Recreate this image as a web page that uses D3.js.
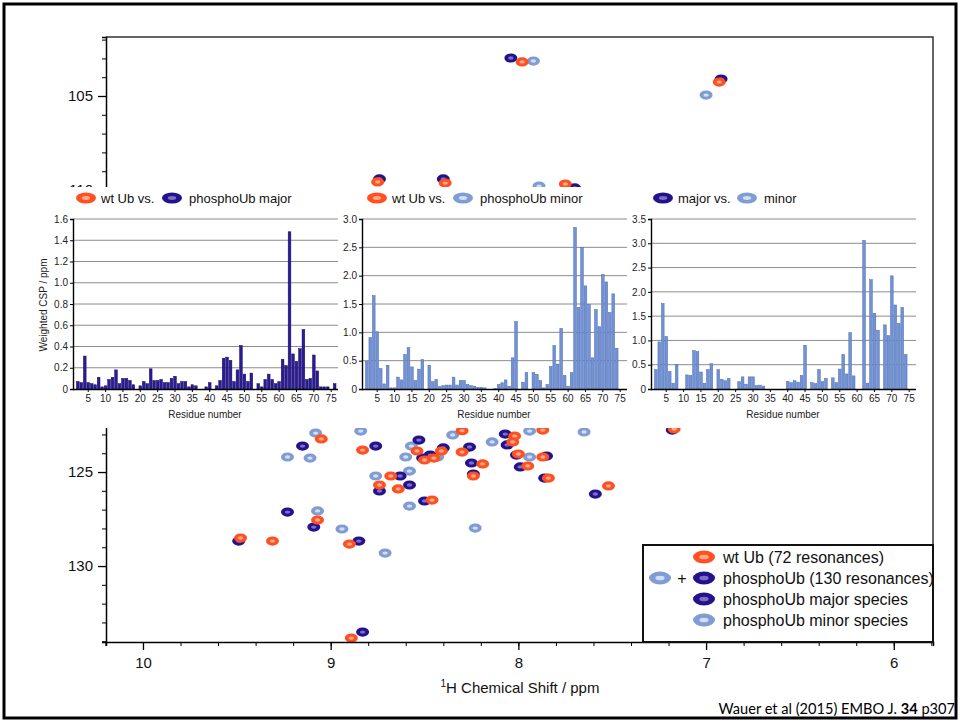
<!DOCTYPE html>
<html>
<head>
<meta charset="utf-8">
<script src="https://cdn.jsdelivr.net/npm/d3@7"></script>
<style>
  body { margin: 0; background: #fff; }
  text { font-family: "Liberation Sans", Arial, Helvetica, sans-serif; }
  text.footer { font-family: Lato, "Open Sans", sans-serif; }
</style>
</head>
<body>
<svg id="fig" width="960" height="722"></svg>
<script>
// ---- spectrum peaks, [1H ppm, 15N ppm] ----
const wtPeaks = [
  [7.98,103.19],[6.93,104.26],[8.75,109.57],[8.39,109.63],[7.75,109.68],
  [9.05,123.24],[8.83,123.83],[8.54,123.88],[8.50,124.36],[8.45,124.26],
  [8.41,123.88],[8.30,123.94],[8.19,124.57],[8.24,125.21],[8.02,123.09],
  [8.03,123.40],[7.87,122.77],[8.00,124.04],[7.95,124.68],[7.87,124.20],
  [7.84,125.32],[7.52,125.74],[7.17,122.71],[8.68,125.21],[8.64,125.90],
  [8.46,126.49],[9.07,127.55],[9.48,128.51],[9.31,128.67],[8.90,128.83],
  [8.89,133.83],[8.74,125.69],[8.30,122.80]
];
const majorPeaks = [
  [8.04,102.98],[6.92,104.10],[8.74,109.41],[8.40,109.41],[7.70,109.89],
  [9.15,123.62],[8.76,123.62],[8.53,123.30],[8.51,124.26],[8.47,124.10],
  [8.40,123.72],[8.26,123.67],[8.25,124.52],[8.24,125.11],[8.07,122.98],
  [8.06,123.56],[8.01,124.10],[7.99,124.73],[7.85,124.15],[7.86,125.32],
  [7.59,126.17],[7.18,122.77],[8.63,125.21],[8.58,125.69],[8.74,126.01],
  [8.50,126.54],[9.23,127.13],[9.09,127.93],[9.49,128.67],[8.85,128.67],
  [8.83,133.51]
];
const minorPeaks = [
  [7.92,103.14],[7.00,104.95],[7.89,109.79],[9.08,122.93],[8.84,122.82],
  [9.23,124.20],[9.11,124.26],[8.60,124.20],[8.57,123.62],[8.43,124.20],
  [8.35,123.03],[8.14,123.40],[7.94,122.82],[7.94,124.20],[7.65,122.87],
  [8.76,125.21],[8.58,124.95],[8.58,126.81],[9.07,127.07],[8.94,128.03],
  [8.23,127.98],[8.71,129.31]
];
const hTicks = [10, 9, 8, 7, 6];
const nTicks = [105, 110, 115, 120, 125, 130];

// ---- weighted CSP per residue ----
const residues = d3.range(1, 77);
const cspWtMajor = [
  0,0.07,0.06,0.31,0.06,0.05,0.04,0.11,0.02,0.03,
  0.09,0.11,0.18,0.05,0.10,0.10,0.08,0.04,0,0.03,
  0.07,0.05,0.19,0.08,0.08,0.09,0.06,0.06,0.10,0.12,
  0.05,0.07,0.07,0.02,0.04,0.03,0,0,0.02,0.06,
  0,0.03,0.08,0.29,0.30,0.27,0.07,0.18,0.41,0.14,
  0.07,0.15,0,0.05,0.02,0.09,0.14,0.09,0.05,0.07,
  0.28,0.22,1.48,0.33,0.26,0.38,0.56,0.09,0.10,0.32,
  0.17,0.02,0.02,0.02,0,0.05
];
const cspWtMinor = [
  0,0.49,0.91,1.65,1.01,0.36,0.09,0.42,0.02,0.02,
  0.21,0.16,0.61,0.73,0.39,0.15,0.35,0.52,0,0.42,
  0.13,0.17,0.04,0.06,0.07,0.07,0.21,0.07,0.15,0.15,
  0.08,0.06,0.05,0.03,0.03,0.02,0,0,0.01,0.08,
  0.11,0.16,0.05,0.55,1.19,0,0.12,0.29,0,0.29,
  0.26,0.15,0.02,0.08,0.40,0.77,0.44,1.07,0.24,0.05,
  0.29,2.85,1.44,2.50,1.82,1.49,0.55,1.40,1.10,2.02,
  1.89,1.35,1.68,0.72,0,0
];
const cspMajorMinor = [
  0,0.40,0.97,1.76,1.08,0.36,0.12,0.50,0,0,
  0.29,0.28,0.79,0.77,0.35,0.12,0.40,0.52,0,0.40,
  0.20,0.17,0.22,0,0,0.15,0.25,0.10,0.25,0.25,
  0.07,0.08,0.06,0,0,0,0,0,0,0.16,
  0.13,0.17,0.14,0.28,0.90,0,0.13,0.11,0.40,0.15,
  0.22,0,0.23,0.13,0.41,0.71,0.31,1.16,0.27,0,
  0,3.06,0.12,2.25,1.56,1.21,0,1.32,1.10,2.33,
  1.73,1.35,1.68,0.71,0,0
];
const residueTicks = [5,10,15,20,25,30,35,40,45,50,55,60,65,70,75];
const legendLabels = ["wt Ub (72 resonances)", "phosphoUb (130 resonances)",
                      "phosphoUb major species", "phosphoUb minor species"];

const col = {
  wt:    { fill: "#ff5022", core: "#ffa98c" },
  major: { fill: "#24118c", core: "#7a6fc4" },
  minor: { fill: "#7f9dd2", core: "#d2def2" }
};

const svg = d3.select("#fig");

function blob(g, cx, cy, rx, ry, c) {
  g.append("ellipse").attr("cx", cx).attr("cy", cy).attr("rx", rx).attr("ry", ry)
    .attr("fill", c.fill);
  g.append("ellipse").attr("cx", cx).attr("cy", cy).attr("rx", rx * 0.42).attr("ry", ry * 0.36)
    .attr("fill", c.core);
}

// outer border
svg.append("rect").attr("x", 4).attr("y", 4).attr("width", 952).attr("height", 714)
  .attr("fill", "none").attr("stroke", "#000").attr("stroke-width", 3);

// ---- main HSQC plot ----
const x = d3.scaleLinear().domain([10.197, 5.791]).range([106, 933]);
const y = d3.scaleLinear().domain([101.862, 134.04]).range([37, 642]);

svg.append("clipPath").attr("id", "plotclip").append("rect")
  .attr("x", 106).attr("y", 37).attr("width", 827).attr("height", 605);

const peaks = svg.append("g").attr("clip-path", "url(#plotclip)");
[[minorPeaks, col.minor], [majorPeaks, col.major], [wtPeaks, col.wt]].forEach(([pts, c]) => {
  pts.forEach(d => blob(peaks, x(d[0]), y(d[1]), 6.5, 4.6, c));
});

// frame top / right
svg.append("path").attr("d", `M106,37H933V642`).attr("fill", "none")
  .attr("stroke", "#333").attr("stroke-width", 1.5);

const xMinor = d3.range(58, 103, 2).map(v => v / 10);
svg.append("g").attr("transform", "translate(0,642)")
  .call(d3.axisBottom(x).tickValues(xMinor).tickSize(4).tickFormat(""))
  .call(g => g.select(".domain").attr("stroke-width", 1.5));
svg.append("g").attr("transform", "translate(0,642)")
  .call(d3.axisBottom(x).tickValues(hTicks).tickSize(8).tickPadding(7).tickFormat(d3.format("d")))
  .call(g => g.select(".domain").remove())
  .call(g => g.selectAll("text").attr("font-size", 15).attr("fill", "#111"))
  .call(g => g.selectAll("line").attr("stroke-width", 1.3));

const yMinor = d3.range(102, 135);
svg.append("g").attr("transform", "translate(106,0)")
  .call(d3.axisLeft(y).tickValues(yMinor).tickSize(4).tickFormat(""))
  .call(g => g.select(".domain").attr("stroke-width", 1.5));
svg.append("g").attr("transform", "translate(106,0)")
  .call(d3.axisLeft(y).tickValues(nTicks).tickSize(8).tickPadding(5).tickFormat(d3.format("d")))
  .call(g => g.select(".domain").remove())
  .call(g => g.selectAll("text").attr("font-size", 15).attr("fill", "#111"))
  .call(g => g.selectAll("line").attr("stroke-width", 1.3));

const xt = svg.append("text").attr("x", 520).attr("y", 693).attr("text-anchor", "middle")
  .attr("font-size", 15).attr("fill", "#111");
xt.append("tspan").attr("font-size", 10).attr("dy", -6).text("1");
xt.append("tspan").attr("dy", 6).text("H Chemical Shift / ppm");

// legend
const lg = svg.append("g");
lg.append("rect").attr("x", 643).attr("y", 545).attr("width", 290).attr("height", 97)
  .attr("fill", "#fff").attr("stroke", "#111").attr("stroke-width", 2);
const legendCols = [[col.wt], [col.minor, col.major], [col.major], [col.minor]];
legendLabels.forEach((t, i) => {
  const cy = 557 + i * 21;
  blob(lg, 704, cy, 11, 6.5, legendCols[i][legendCols[i].length - 1]);
  if (legendCols[i].length > 1) {
    blob(lg, 660, cy, 11, 6.5, legendCols[i][0]);
    lg.append("text").attr("x", 682).attr("y", cy).attr("dy", "0.36em").attr("text-anchor", "middle")
      .attr("font-size", 16).attr("fill", "#111").text("+");
  }
  lg.append("text").attr("x", 723).attr("y", cy).attr("dy", "0.36em")
    .attr("font-size", 16).attr("fill", "#111").text(t);
});

// ---- inset CSP panels ----
svg.append("rect").attr("x", 28).attr("y", 187).attr("width", 902).attr("height", 241).attr("fill", "#fff");

const panels = [
  { x0: 73,  vals: cspWtMajor,    ymax: 1.6, step: 0.2, bar: "#2b1c94", edge: "#170c6a",
    leg: [[86, col.wt], [172, col.major]], legText: [[101, "wt Ub vs."], [189, "phosphoUb major"]], ytitle: true },
  { x0: 362, vals: cspWtMinor,    ymax: 3.0, step: 0.5, bar: "#7292d3", edge: "#4d6db6",
    leg: [[377, col.wt], [463, col.minor]], legText: [[392, "wt Ub vs."], [480, "phosphoUb minor"]] },
  { x0: 651, vals: cspMajorMinor, ymax: 3.5, step: 0.5, bar: "#7292d3", edge: "#4d6db6",
    leg: [[663, col.major], [747, col.minor]], legText: [[678, "major vs."], [764, "minor"]] }
];

panels.forEach(p => {
  const g = svg.append("g");
  const xb = d3.scaleBand().domain(residues).range([p.x0, p.x0 + 263]).paddingInner(0.22);
  const yb = d3.scaleLinear().domain([0, p.ymax]).range([389, 219]);
  const yt = d3.range(0, Math.round(p.ymax / p.step) + 1).map(i => +(i * p.step).toFixed(1));

  g.append("g").selectAll("line").data(yt.slice(1)).join("line")
    .attr("x1", p.x0).attr("x2", p.x0 + 265).attr("y1", d => yb(d)).attr("y2", d => yb(d))
    .attr("stroke", "#8c8c8c").attr("stroke-width", 1);

  g.append("g").selectAll("rect").data(residues).join("rect")
    .attr("x", d => xb(d)).attr("width", xb.bandwidth())
    .attr("y", d => yb(p.vals[d - 1])).attr("height", d => 389 - yb(p.vals[d - 1]))
    .attr("fill", p.bar).attr("stroke", p.edge).attr("stroke-width", 0.5);

  g.append("g").attr("transform", `translate(${p.x0},0)`)
    .call(d3.axisLeft(yb).tickValues(yt).tickSize(3).tickPadding(2)
      .tickFormat(d => d === 0 ? "0" : d3.format(".1f")(d)))
    .call(a => a.select(".domain").attr("stroke-width", 1.4))
    .call(a => a.selectAll("text").attr("font-size", 10).attr("fill", "#222"));

  g.append("g").attr("transform", "translate(0,389)")
    .call(d3.axisBottom(xb).tickValues(residueTicks).tickSize(3).tickPadding(3).tickSizeOuter(0))
    .call(a => a.select(".domain").attr("d", `M${p.x0},0.5H${p.x0 + 265}`).attr("stroke-width", 1.4))
    .call(a => a.selectAll("text").attr("font-size", 10).attr("fill", "#222"));

  g.append("text").attr("x", p.x0 + 132).attr("y", 418).attr("text-anchor", "middle")
    .attr("font-size", 10).attr("fill", "#222").text("Residue number");

  if (p.ytitle) {
    g.append("text").attr("transform", `translate(47,305) rotate(-90)`).attr("text-anchor", "middle")
      .attr("font-size", 10).attr("fill", "#222").text("Weighted CSP / ppm");
  }

  p.leg.forEach(([cx, c]) => blob(g, cx, 198, 10, 5.5, c));
  p.legText.forEach(([tx, t]) => g.append("text").attr("x", tx).attr("y", 198).attr("dy", "0.36em")
    .attr("font-size", 13).attr("fill", "#111").text(t));
});

// footer
const ft = svg.append("text").attr("class", "footer").attr("x", 955).attr("y", 714)
  .attr("text-anchor", "end").attr("font-size", 14.6).attr("fill", "#000");
ft.append("tspan").text("Wauer et al (2015) EMBO J. ");
ft.append("tspan").attr("font-weight", "bold").text("34");
ft.append("tspan").text(" p307");
</script>
</body>
</html>
